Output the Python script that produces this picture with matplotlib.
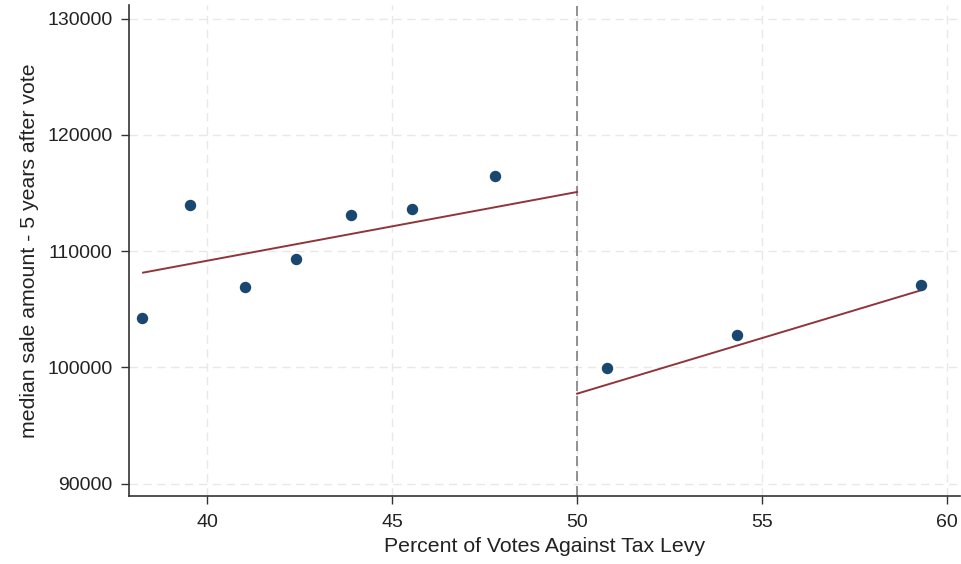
import matplotlib
matplotlib.use("Agg")
import matplotlib.pyplot as plt

plt.rcParams['font.family'] = ['Liberation Sans', 'DejaVu Sans']

# binned means: percent against levy vs median sale amount 5 years later
below_x = [38.25, 39.54, 41.02, 42.39, 43.88, 45.54, 47.77]
below_y = [104270, 113930, 106900, 109350, 113100, 113610, 116450]
above_x = [50.80, 54.31, 59.29]
above_y = [99940, 102770, 107050]

# linear fits on each side of the 50% cutoff
fit_below_x = [38.27, 50.0]
fit_below_y = [108140, 115080]
fit_above_x = [50.0, 59.29]
fit_above_y = [97730, 106620]

cutoff = 50
xticks = [40, 45, 50, 55, 60]
yticks = [90000, 100000, 110000, 120000, 130000]

navy = '#1a476f'
maroon = '#90353b'

fig = plt.figure(figsize=(9.61, 5.64), dpi=100)
ax = fig.add_axes([0.1346, 0.1206, 0.8645, 0.8705])

ax.set_xlim(37.9, 60.35)
ax.set_ylim(88930, 131160)
ax.set_xticks(xticks)
ax.set_yticks(yticks)
ax.grid(True, color='#e8e8e8', linestyle=(0, (6, 4)), linewidth=1.0)
ax.set_axisbelow(True)

ax.axvline(cutoff, color='#7f7f7f', linestyle=(0, (6, 3)), linewidth=1.2, zorder=2)

ax.plot(fit_below_x, fit_below_y, color=maroon, linewidth=1.4, zorder=3)
ax.plot(fit_above_x, fit_above_y, color=maroon, linewidth=1.4, zorder=3)
ax.scatter(below_x, below_y, s=52, color=navy, zorder=4)
ax.scatter(above_x, above_y, s=52, color=navy, zorder=4)

for side in ['top', 'right']:
    ax.spines[side].set_visible(False)
for side in ['left', 'bottom']:
    ax.spines[side].set_color('#333333')
    ax.spines[side].set_linewidth(1.2)

ax.tick_params(axis='both', direction='out', length=6, width=1.0,
               color='#333333', labelsize=14, labelcolor='#222222')
ax.tick_params(axis='y', pad=6)
ax.tick_params(axis='x', pad=7)

ax.set_xlabel('Percent of Votes Against Tax Levy', fontsize=15.3,
              color='#222222', labelpad=4)
ax.set_ylabel('median sale amount - 5 years after vote', fontsize=15.3,
              color='#222222', labelpad=6)

fig.savefig('out.png', dpi=100)
